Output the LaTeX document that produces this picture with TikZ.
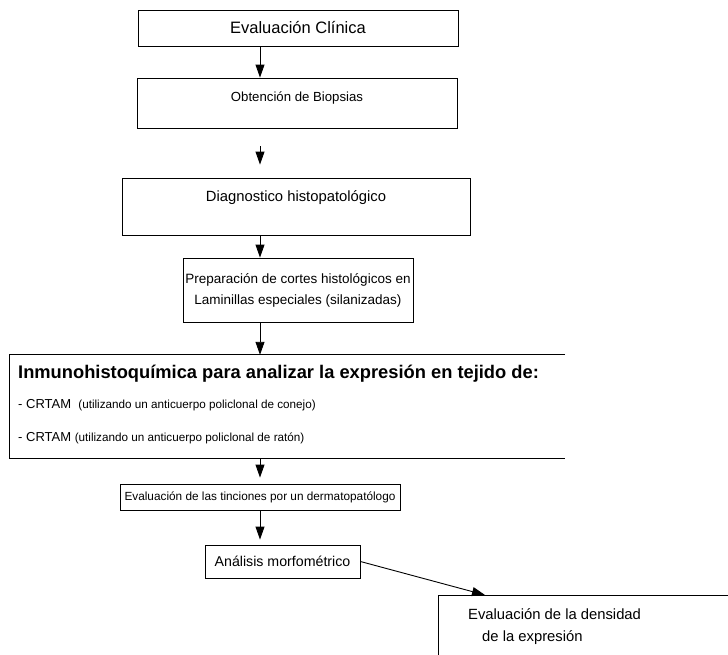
\documentclass[tikz,border=0pt]{standalone}
\usepackage{fontspec}
\setmainfont{Liberation Sans}
\usetikzlibrary{arrows.meta}
\begin{document}
\begin{tikzpicture}[x=1pt,y=-1pt,
  box/.style={draw, line width=0.9pt, inner sep=0pt, align=center},
  arr/.style={line width=0.9pt, -{Triangle[width=9pt,length=13pt]}},
  plain/.style={inner sep=0pt, anchor=base west}
  ]
\useasboundingbox[fill=white] (0,0) rectangle (728,654);
\coordinate (ax) at (260,0);

\node[box, minimum width=320pt, minimum height=36pt, font=\fontsize{16.5}{19}\selectfont] (b1) at (298,28) {Evaluación Clínica};
\node[box, minimum width=320pt, minimum height=50pt, text depth=12pt, font=\fontsize{13.2}{16}\selectfont] (b2) at (297,103) {Obtención de Biopsias};
\node[box, minimum width=348pt, minimum height=57pt, text depth=21pt, font=\fontsize{14.8}{17}\selectfont] (b3) at (296,206.5) {Diagnostico histopatológico};
\node[box, minimum width=230pt, minimum height=64pt, font=\fontsize{13.5}{21}\selectfont] (b4) at (298,290) {Preparación de cortes histológicos en\\Laminillas especiales (silanizadas)};

\node[minimum width=555pt, minimum height=103pt, inner sep=0pt] (b5) at (287.5,406.5) {};
\draw[line width=0.9pt] (b5.north east) -- (b5.north west) -- (b5.south west) -- (b5.south east);
\node[plain, font=\bfseries\fontsize{18.3}{21}\selectfont] (t5a) at (18,378) {Inmunohistoquímica para analizar la expresión en tejido de:};
\node[plain] (t5b) at (18,408) {\fontsize{13}{16}\selectfont - CRTAM\ \ \fontsize{11.7}{14}\selectfont(utilizando un anticuerpo policlonal de conejo)};
\node[plain] (t5c) at (18,441) {\fontsize{13}{16}\selectfont - CRTAM \fontsize{11.7}{14}\selectfont(utilizando un anticuerpo policlonal de ratón)};

\node[box, minimum width=280pt, minimum height=26pt, font=\fontsize{11.8}{14}\selectfont] (b6) at (260,497) {Evaluación de las tinciones por un dermatopatólogo};
\node[box, minimum width=155pt, minimum height=33pt, font=\fontsize{14.2}{17}\selectfont] (b7) at (282.5,561.5) {Análisis morfométrico};

\node[minimum width=290pt, minimum height=70pt, inner sep=0pt, anchor=north west] (b8) at (438,595) {};
\draw[line width=0.9pt] (b8.north east) -- (b8.north west) -- (b8.south west);
\node[plain, font=\fontsize{14.8}{17}\selectfont] (t8a) at (468,619) {Evaluación de la densidad};
\node[plain, font=\fontsize{14.8}{17}\selectfont] (t8b) at (482,641) {de la expresión};

\draw[arr] (b1.south -| ax) -- (b2.north -| ax);
\draw[arr] ([yshift=-18pt]b2.south -| ax) -- ([yshift=13pt]b3.north -| ax);
\draw[arr] (b3.south -| ax) -- (b4.north -| ax);
\draw[arr] (b4.south -| ax) -- (b5.north -| ax);
\draw[arr] (b5.south -| ax) -- ([yshift=6pt]b6.north -| ax);
\draw[arr] (b6.south -| ax) -- ([yshift=5pt]b7.north -| ax);
\coordinate (e8) at (485,595);
\draw[arr] (b7.east) -- (e8);
\end{tikzpicture}
\end{document}
